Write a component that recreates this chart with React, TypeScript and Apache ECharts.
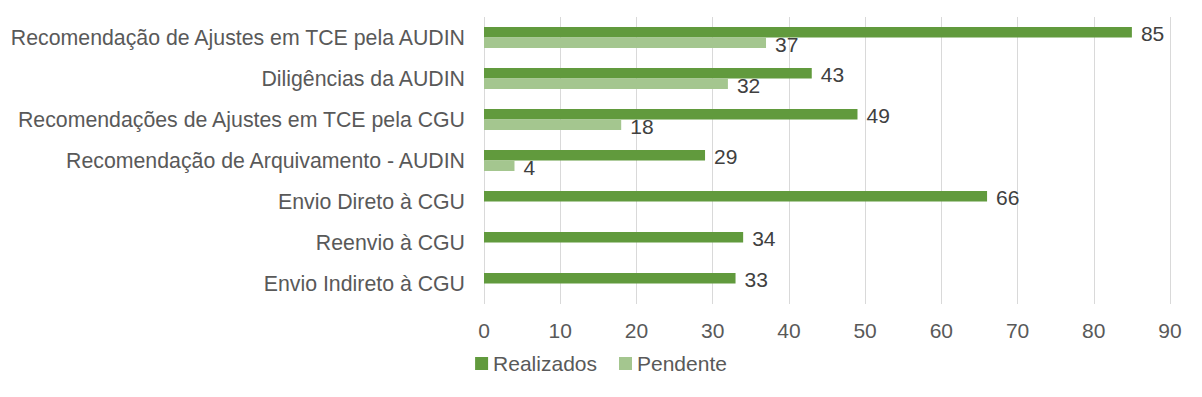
import React, { useEffect, useRef } from "react";
import * as echarts from "echarts";

const categories = [
  "Recomendação de Ajustes em TCE pela AUDIN",
  "Diligências da AUDIN",
  "Recomendações de Ajustes em TCE pela CGU",
  "Recomendação de Arquivamento - AUDIN",
  "Envio Direto à CGU",
  "Reenvio à CGU",
  "Envio Indireto à CGU",
];
const realizados = [85, 43, 49, 29, 66, 34, 33];
const pendente: (number | string)[] = [37, 32, 18, 4, "-", "-", "-"];
const xTicks = [0, 90, 10];

export default function App() {
  const ref = useRef<HTMLDivElement>(null);
  useEffect(() => {
    if (!ref.current) return;
    const chart = echarts.init(ref.current, undefined, { renderer: "svg" });
    const font = "'Liberation Sans', Arial, sans-serif";
    const fs = 21;
    chart.setOption({
      animation: false,
      textStyle: { fontFamily: font },
      legend: {
        bottom: 10,
        left: "center",
        itemWidth: 13,
        itemHeight: 13,
        itemGap: 22,
        icon: "rect",
        textStyle: { fontSize: fs, color: "#595959", fontFamily: font },
        data: ["Realizados", "Pendente"],
      },
      grid: { left: 476, right: 24, top: 9, bottom: 85, containLabel: false, outerBoundsMode: "none" },
      xAxis: {
        type: "value",
        min: xTicks[0],
        max: xTicks[1],
        interval: xTicks[2],
        axisLine: { show: false },
        axisTick: { show: false },
        splitLine: { lineStyle: { color: "#D9D9D9", width: 1 } },
        axisLabel: { fontSize: fs, color: "#595959", margin: 16, fontFamily: font },
      },
      yAxis: {
        type: "category",
        inverse: true,
        data: categories,
        axisLine: { show: false },
        axisTick: { show: false },
        axisLabel: { fontSize: 21.3, color: "#595959", margin: 19, fontFamily: font },
      },
      series: [
        {
          name: "Realizados",
          type: "bar",
          data: realizados,
          barWidth: 10.5,
          barGap: "0%",
          itemStyle: { color: "#619A3D" },
          label: {
            show: true,
            position: "right",
            distance: 9,
            fontSize: fs,
            color: "#404040",
            fontFamily: font,
            offset: [0, 1],
          },
        },
        {
          name: "Pendente",
          type: "bar",
          data: pendente,
          barWidth: 10.5,
          barGap: "0%",
          itemStyle: { color: "#A4C68F" },
          label: {
            show: true,
            position: "right",
            distance: 9,
            fontSize: fs,
            color: "#404040",
            fontFamily: font,
            offset: [0, 2],
          },
        },
      ],
    });
    return () => chart.dispose();
  }, []);
  return <div ref={ref} style={{ width: 1186, height: 381 }} />;
}
